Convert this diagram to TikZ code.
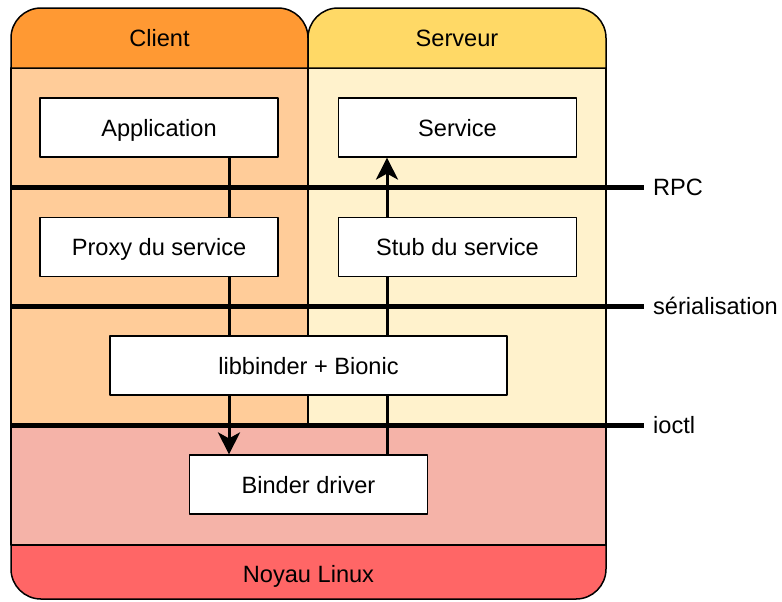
\documentclass[tikz,border=0pt]{standalone}
\usepackage{fontspec}
\setmainfont{Liberation Sans}
\usetikzlibrary{arrows.meta}
\definecolor{cliHead}{HTML}{FF9933}
\definecolor{cliBody}{HTML}{FFCC99}
\definecolor{srvHead}{HTML}{FFD966}
\definecolor{srvBody}{HTML}{FFF2CC}
\definecolor{krnBody}{HTML}{F5B3A8}
\definecolor{krnHead}{HTML}{FF6666}
\begin{document}
\begin{tikzpicture}[x=0.5pt,y=-0.5pt,font=\fontsize{11.8}{14}\selectfont, line join=round, >={Stealth[length=11pt,width=11pt,inset=3pt]},
  every node/.style={text height=8.5pt,text depth=0pt},
  box/.style={draw,fill=white,line width=0.6pt,minimum width=119pt,minimum height=29.5pt,inner sep=0pt},
  lane/.style={draw,line width=0.75pt},
  layer/.style={line width=2.5pt},
  link/.style={line width=1.5pt}]
\useasboundingbox (0,0) rectangle (782,601);
% bandes
\draw[lane,fill=cliBody](11,68)rectangle(308,425);
\draw[lane,fill=srvBody](308,68)rectangle(606,425);
\draw[lane,fill=krnBody](11,425)rectangle(606,545);
\draw[lane,fill=cliHead](11,68)[rounded corners=15pt]--(11,8)--(308,8)[sharp corners]--(308,68)--cycle;
\draw[lane,fill=srvHead](308,68)[rounded corners=15pt]--(308,8)--(606,8)[sharp corners]--(606,68)--cycle;
\draw[lane,fill=krnHead](11,545)[rounded corners=15pt]--(11,599)--(606,599)[sharp corners]--(606,545)--cycle;
\node(cli)at(159.5,38){Client};
\node(srv)at(457,38){Serveur};
\node(krn)at(308.5,574){Noyau Linux};
% couches
\foreach \y/\t in{187/RPC,306/sérialisation,425/ioctl}
\draw[layer](11,\y)--(644,\y)node[right](l\y){\t};
% boites
\node[box](app)at(159,127.5){Application};
\node[box](svc)at(457.5,127.5){Service};
\node[box](prx)at(159,247){Proxy du service};
\node[box](stb)at(457.5,247){Stub du service};
\node[box,minimum width=198.5pt](lib)at(308.5,365.5){libbinder + Bionic};
\node[box](drv)at(308.5,484.5){Binder driver};
\coordinate(cl)at(229,0);
\coordinate(cr)at(387,0);
\draw[link](app.south-|cl)--(prx.north-|cl);
\draw[link](prx.south-|cl)--(lib.north-|cl);
\draw[link,->](lib.south-|cl)--(drv.north-|cl);
\draw[link](drv.north-|cr)--(lib.south-|cr);
\draw[link](lib.north-|cr)--(stb.south-|cr);
\draw[link,->](stb.north-|cr)--(svc.south-|cr);
\end{tikzpicture}
\end{document}
